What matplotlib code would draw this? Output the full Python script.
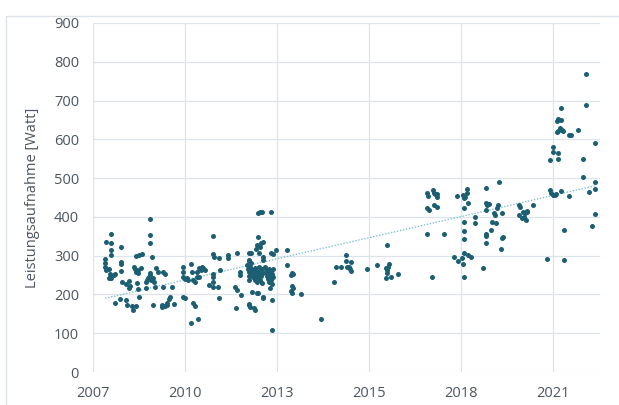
import numpy as np
import matplotlib
matplotlib.use("Agg")
import matplotlib.pyplot as plt
from matplotlib.patches import Rectangle

# messwerte: jahr (dezimal) und leistung in watt
x_2007 = [2008.14, 2007.98, 2008.14, 2008.14, 2008.14, 2008.44, 2007.97, 2007.96, 2007.97, 2007.98,
          2008.08, 2008.11, 2008.08, 2008.14, 2008.22, 2008.25, 2008.43, 2008.43, 2008.43, 2008.47,
          2008.59, 2008.67, 2008.69, 2008.67, 2008.39, 2008.25, 2008.59, 2008.62, 2008.77, 2008.79,
          2008.89, 2008.89, 2008.97, 2009.05, 2008.81, 2008.84, 2008.94, 2008.89, 2008.94, 2009.04,
          2009.29, 2009.31, 2009.31, 2009.36, 2008.91, 2008.94, 2008.97, 2009.17, 2009.21, 2009.24,
          2009.27, 2009.29, 2009.33, 2009.39, 2009.41, 2009.19, 2009.44, 2009.31, 2009.47, 2009.53,
          2009.68, 2009.73, 2009.68, 2009.39, 2009.66, 2009.66, 2009.73, 2009.80, 2009.86, 2009.90,
          2009.96, 2009.80]
y_2007 = [356, 334, 333, 315, 302, 322, 291, 280, 272, 263,
          265, 253, 242, 242, 250, 253, 284, 278, 261, 233,
          226, 234, 222, 216, 188, 177, 186, 173, 170, 160,
          170, 299, 302, 304, 272, 266, 263, 259, 256, 267,
          394, 353, 333, 296, 230, 213, 194, 233, 237, 242,
          246, 250, 237, 242, 233, 216, 218, 256, 267, 259,
          259, 253, 218, 172, 172, 167, 170, 177, 187, 194,
          218, 173]

x_2010 = [2010.01, 2010.29, 2010.27, 2010.29, 2010.34, 2010.39, 2010.44, 2010.51, 2010.54, 2010.57,
          2010.64, 2010.69, 2010.70, 2010.76, 2010.81, 2010.83, 2010.88, 2010.93, 2010.76, 2010.29,
          2010.34, 2010.58, 2010.64, 2010.51, 2010.73, 2011.16, 2011.18, 2011.20, 2011.36, 2011.38,
          2011.16, 2011.18, 2011.16, 2011.06, 2011.18, 2011.33, 2011.36, 2011.63, 2011.63, 2011.88,
          2011.97, 2011.99, 2011.83, 2011.88, 2012.00, 2011.86, 2012.25, 2012.25, 2012.25, 2012.25,
          2012.25]
y_2010 = [175, 272, 259, 244, 239, 242, 237, 279, 259, 237,
          233, 244, 259, 267, 263, 272, 267, 263, 246, 194,
          190, 177, 170, 126, 137, 351, 304, 297, 295, 263,
          253, 244, 233, 224, 218, 218, 190, 302, 293, 306,
          259, 250, 218, 211, 199, 164, 287, 248, 237, 175,
          306]

x_2012 = [2012.52, 2012.57, 2012.64, 2012.90, 2012.52, 2012.47, 2012.60, 2012.67, 2012.57, 2012.44,
          2012.30, 2012.54, 2012.67, 2012.67, 2012.90, 2012.97, 2013.04, 2013.36, 2012.24, 2012.30,
          2012.18, 2012.21, 2012.24, 2012.27, 2012.30, 2012.33, 2012.36, 2012.39, 2012.42, 2012.42,
          2012.45, 2012.48, 2012.48, 2012.51, 2012.54, 2012.54, 2012.57, 2012.57, 2012.60, 2012.63,
          2012.63, 2012.66, 2012.72, 2012.75, 2012.78, 2012.78, 2012.81, 2012.81, 2012.84, 2012.84,
          2012.87, 2012.87, 2012.90, 2012.90, 2012.93, 2012.93, 2012.96, 2012.96, 2012.32, 2012.47,
          2012.52, 2012.67, 2012.67, 2012.87, 2012.94, 2012.24, 2012.27, 2012.40, 2012.42, 2012.94,
          2013.36, 2013.51, 2013.56, 2013.49, 2013.51, 2013.56, 2013.49, 2013.51, 2013.79, 2014.39]
y_2012 = [411, 413, 413, 413, 347, 327, 333, 336, 322, 316,
          308, 306, 297, 289, 308, 304, 315, 315, 289, 282,
          275, 265, 258, 270, 250, 262, 245, 255, 268, 238,
          248, 260, 232, 252, 242, 270, 236, 258, 248, 265,
          230, 255, 270, 258, 248, 262, 240, 255, 266, 232,
          250, 245, 260, 238, 252, 228, 265, 244, 207, 205,
          205, 194, 190, 216, 186, 173, 168, 164, 160, 108,
          276, 256, 253, 250, 222, 216, 210, 205, 201, 136]

x_2014 = [2014.78, 2014.83, 2014.97, 2015.13, 2015.13, 2015.27, 2015.17, 2015.23, 2015.25, 2015.27,
          2015.75, 2016.04, 2016.34, 2016.42, 2016.39, 2016.32, 2016.36, 2016.34, 2016.32, 2016.46,
          2016.67]
y_2014 = [231, 270, 272, 302, 287, 284, 272, 270, 265, 261,
          265, 276, 328, 279, 272, 267, 263, 255, 242, 246,
          252]

x_2017 = [2017.55, 2017.58, 2017.73, 2017.75, 2017.78, 2017.85, 2017.85, 2017.55, 2017.61, 2017.75,
          2017.83, 2017.55, 2018.05, 2017.69, 2018.42, 2018.60, 2018.67, 2018.72, 2018.74, 2018.64,
          2018.77, 2018.64, 2018.64, 2018.64, 2018.64, 2018.35, 2018.47, 2018.57, 2018.64, 2018.77,
          2018.84, 2018.62, 2018.64, 2018.97, 2018.97, 2019.21, 2019.31, 2019.31, 2019.31, 2019.29,
          2019.29, 2019.34, 2019.39, 2019.31, 2019.44, 2019.47, 2019.60, 2019.54, 2019.56, 2019.61,
          2019.66, 2019.76, 2019.76, 2019.79, 2019.74, 2019.69]
y_2017 = [461, 454, 469, 462, 459, 459, 452, 422, 418, 431,
          426, 356, 355, 244, 454, 456, 452, 461, 471, 448,
          437, 422, 386, 364, 343, 297, 286, 293, 306, 302,
          296, 278, 244, 401, 385, 267, 355, 351, 332, 474,
          435, 431, 433, 418, 366, 388, 383, 411, 405, 422,
          431, 411, 345, 347, 317, 491]

x_2020 = [2020.29, 2020.31, 2020.39, 2020.46, 2020.53, 2020.43, 2020.36, 2020.49, 2020.29, 2020.53,
          2020.71, 2021.12, 2021.62, 2021.62, 2022.27, 2022.27, 2021.52, 2021.45, 2021.52, 2021.42,
          2021.50, 2021.55, 2021.45, 2021.60, 2021.42, 2021.77, 2021.84, 2022.04, 2022.54, 2021.28,
          2021.28, 2021.20, 2021.45, 2021.45, 2022.19, 2022.19, 2022.53, 2022.53, 2022.37, 2021.20,
          2021.22, 2021.28, 2021.35, 2021.38, 2021.53, 2021.77, 2022.53, 2022.44]
y_2020 = [431, 425, 413, 409, 416, 401, 396, 392, 405, 413,
          431, 291, 366, 288, 769, 689, 680, 652, 650, 646,
          628, 624, 622, 622, 620, 610, 610, 624, 591, 579,
          568, 547, 564, 550, 548, 502, 491, 471, 464, 469,
          461, 456, 456, 459, 468, 454, 407, 377]

x_ticks = [2007.60, 2010.34, 2013.08, 2015.81, 2018.55, 2021.29]
x_labels = ["2007", "2010", "2013", "2015", "2018", "2021"]
y_ticks = [0, 100, 200, 300, 400, 500, 600, 700, 800, 900]

x = np.array(x_2007 + x_2010 + x_2012 + x_2014 + x_2017 + x_2020)
y = np.array(y_2007 + y_2010 + y_2012 + y_2014 + y_2017 + y_2020)

plt.rcParams['font.family'] = ['Open Sans', 'DejaVu Sans']
fig = plt.figure(figsize=(6.19, 4.05), dpi=100)
fig.patches.append(Rectangle((6/619, -0.1), 1.2, 1.08 - 8/405 + 0.0, transform=fig.transFigure,
                             fill=False, edgecolor='#dfe4e9', linewidth=1.0))
ax = fig.add_axes([93/619, 33/405, 507/619, 349/405])

ax.scatter(x, y, s=13, color='#1d5f72', linewidths=0, zorder=3)

# linearer trend
k, d = np.polyfit(x, y, 1)
xt = np.array([x.min(), x.max()])
ax.plot(xt, k*xt + d, linestyle=(0, (1, 1.2)), color='#7fc1d3', linewidth=1.0, zorder=2)

ax.set_xlim(2007.60, 2022.69)
ax.set_ylim(0, 900)
ax.set_xticks(x_ticks)
ax.set_xticklabels(x_labels)
ax.set_yticks(y_ticks)
ax.grid(True, color='#dde3ea', linewidth=0.9)
ax.set_axisbelow(True)
for s in ax.spines.values():
    s.set_visible(False)
ax.tick_params(length=0, labelsize=10.5, labelcolor='#4a5560', pad=10)
ax.set_ylabel("Leistungsaufnahme [Watt]", fontsize=10.5, color='#4a5560', labelpad=10)

fig.savefig("out.png", dpi=100)
